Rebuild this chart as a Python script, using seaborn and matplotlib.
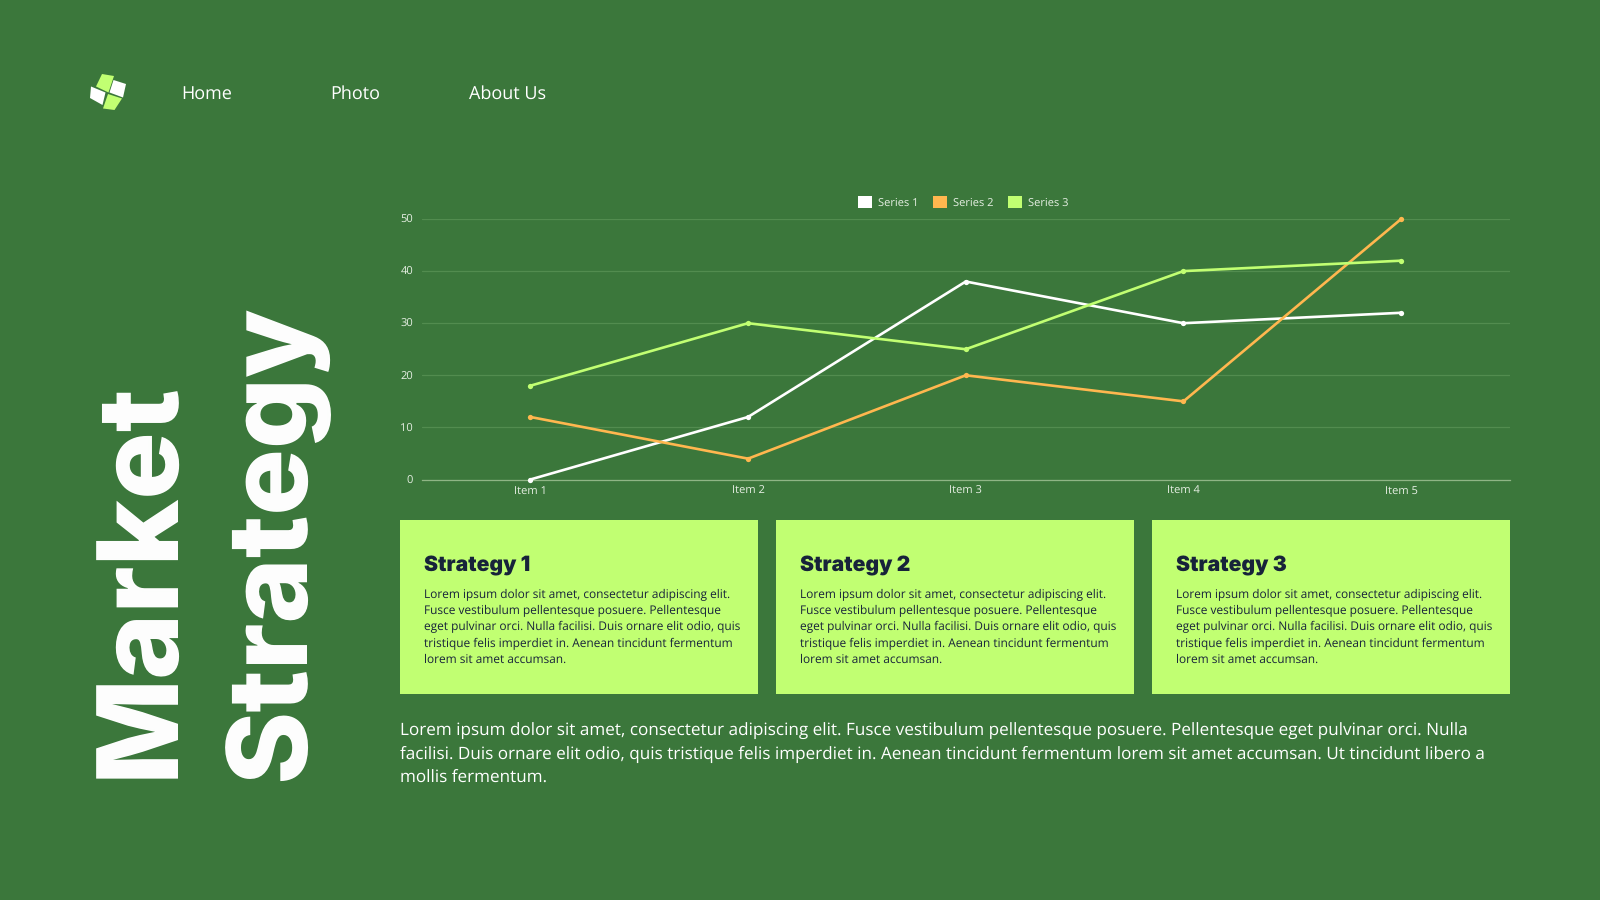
import pandas as pd
import matplotlib
matplotlib.use("Agg")
import matplotlib.pyplot as plt
import seaborn as sns
from matplotlib.patches import Patch, Polygon, Rectangle

# data
items = ["Item 1", "Item 2", "Item 3", "Item 4", "Item 5"]
series_1 = [0, 12, 38, 30, 32]
series_2 = [12, 4, 20, 15, 50]
series_3 = [18, 30, 25, 40, 42]
y_ticks = [0, 10, 20, 30, 40, 50]

nav_labels = ["Home", "Photo", "About Us"]
card_titles = ["Strategy 1", "Strategy 2", "Strategy 3"]
card_lines = [
    "Lorem ipsum dolor sit amet, consectetur adipiscing elit.",
    "Fusce vestibulum pellentesque posuere. Pellentesque",
    "eget pulvinar orci. Nulla facilisi. Duis ornare elit odio, quis",
    "tristique felis imperdiet in. Aenean tincidunt fermentum",
    "lorem sit amet accumsan.",
]
body_lines = [
    "Lorem ipsum dolor sit amet, consectetur adipiscing elit. Fusce vestibulum pellentesque posuere. Pellentesque eget pulvinar orci. Nulla",
    "facilisi. Duis ornare elit odio, quis tristique felis imperdiet in. Aenean tincidunt fermentum lorem sit amet accumsan. Ut tincidunt libero a",
    "mollis fermentum.",
]

BG = "#3b773b"
LIME = "#c1ff72"
ORANGE = "#ffb74f"
INK = "#17233a"

sns.set_theme(style="white")
plt.rcParams["font.family"] = ["Open Sans", "DejaVu Sans"]
plt.rcParams["text.hinting"] = "no_hinting"
plt.rcParams["text.hinting_factor"] = 8

fig = plt.figure(figsize=(16, 9), dpi=100, facecolor=BG)

# page layer in pixel coords
page = fig.add_axes([0, 0, 1, 1])
page.set_xlim(0, 1600)
page.set_ylim(900, 0)
page.axis("off")

# logo
page.add_patch(Polygon([(102, 74), (114, 76), (108.5, 92.5), (96, 86.5)], color=LIME, lw=0))
page.add_patch(Polygon([(113.5, 80), (126, 84), (123, 97.5), (109.5, 92.5)], color="white", lw=0))
page.add_patch(Polygon([(91, 86.5), (105.5, 92.5), (102.5, 105), (90, 98)], color="white", lw=0))
page.add_patch(Polygon([(108, 94), (122, 98.5), (114.5, 110), (103, 108.5)], color=LIME, lw=0))

for label, x, y in zip(nav_labels, [181, 330, 469], [100, 98.5, 98.5]):
    page.text(x, y, label, color="white", fontsize=13, va="baseline", ha="left")

# big rotated title
page.text(92, 778, "Market", color="white", fontsize=81, fontweight=800, family="Inter",
          rotation=90, ha="left", va="bottom")
page.text(222, 781, "Strategy", color="white", fontsize=80, fontweight=800, family="Inter",
          rotation=90, ha="left", va="bottom")

# cards
for i, (x0, title) in enumerate(zip([400, 776, 1152], card_titles)):
    page.add_patch(Rectangle((x0, 520), 358, 174, color=LIME, lw=0))
    page.text(x0 + 24, 571.5, title, color=INK, fontsize=15.2, fontweight="black", family="Inter",
              va="baseline", ha="left")
    for j, line in enumerate(card_lines):
        page.text(x0 + 24, 598.3 + j * 16.15, line, color=INK, fontsize=8.52, va="baseline", ha="left")

for j, line in enumerate(body_lines):
    page.text(400, 735.5 + j * 23.3, line, color="white", fontsize=12.3, va="baseline", ha="left")

# line chart
ax = fig.add_axes([421.5 / 1600, 1 - 479.5 / 900, (1510 - 421.5) / 1600, (479.5 - 219) / 900])
ax.set_facecolor("none")

df = pd.DataFrame({"item": items, "Series 1": series_1, "Series 2": series_2, "Series 3": series_3})
long_df = df.melt(id_vars="item", var_name="series", value_name="value")
palette = {"Series 1": "white", "Series 2": ORANGE, "Series 3": LIME}

sns.lineplot(data=long_df, x="item", y="value", hue="series", palette=palette, marker="o",
             markersize=3.8, markeredgewidth=0, linewidth=1.9, legend=False, ax=ax, clip_on=False, zorder=3)

ax.set_xlim(-0.5, 4.5)
ax.set_ylim(0, 50)
ax.set_yticks(y_ticks)
ax.set_xlabel("")
ax.set_ylabel("")
ax.grid(axis="y", color="#528c4f", linewidth=0.9)
ax.grid(axis="x", visible=False)
ax.set_axisbelow(True)
sns.despine(ax=ax, left=True, right=True, top=True)
ax.spines["bottom"].set_color("#8fb585")
ax.spines["bottom"].set_linewidth(0.9)
ax.tick_params(axis="both", length=0, labelsize=8, labelcolor="#e6efe3")
ax.tick_params(axis="y", pad=6)
ax.tick_params(axis="x", pad=10.4)
for lbl in ax.get_xticklabels():
    lbl.set_va("baseline")

handles = [Patch(facecolor=palette[s], edgecolor="none", label=s) for s in palette]
leg = ax.legend(handles=handles, loc="lower center", bbox_to_anchor=(0.4975, 1.0), ncol=3, frameon=False,
                fontsize=8, labelcolor="#e6efe3", handlelength=1.25, handleheight=1.25, handletextpad=0.55,
                columnspacing=1.3, borderaxespad=0.55)

fig.savefig("out.png", dpi=100, facecolor=BG)
